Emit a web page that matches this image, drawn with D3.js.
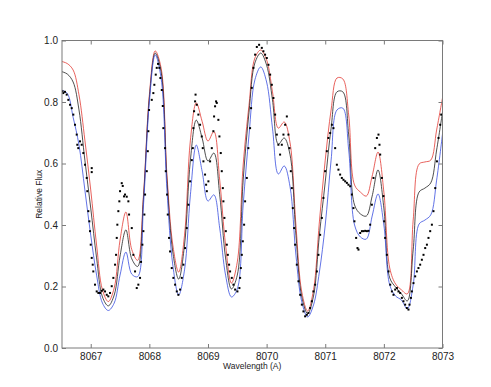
<!DOCTYPE html>
<head>
  <meta charset="utf-8">
  <title>Relative Flux</title>
  <script src="https://cdn.jsdelivr.net/npm/d3@7"></script>
  <style>
    body { margin: 0; background: #fff; }
    text { font-family: "Liberation Sans", Arial, sans-serif; fill: #222; }
  </style>
</head>

<body>
  <script type="text/javascript">
    var WIDTH = 491;
    var HEIGHT = 387;
    var LEFT = 62, RIGHT = 442.5, TOP = 40.5, BOTTOM = 348;

    //===========data
    var xTicks = [8067, 8068, 8069, 8070, 8071, 8072, 8073];
    var yTicks = [0.0, 0.2, 0.4, 0.6, 0.8, 1.0];

    // model grid (Angstrom)
    var modelWave = [8066.5, 8066.6, 8066.7, 8066.8, 8066.9, 8067.0, 8067.1, 8067.2, 8067.3, 8067.4,
                     8067.5, 8067.6, 8067.7, 8067.8, 8067.9, 8068.0, 8068.1, 8068.2, 8068.3, 8068.4,
                     8068.5, 8068.6, 8068.7, 8068.8, 8068.9, 8069.0, 8069.1, 8069.2, 8069.3, 8069.4,
                     8069.5, 8069.6, 8069.7, 8069.8, 8069.9, 8070.0, 8070.1, 8070.2, 8070.3, 8070.4,
                     8070.5, 8070.6, 8070.7, 8070.8, 8070.9, 8071.0, 8071.1, 8071.2, 8071.3, 8071.4,
                     8071.5, 8071.6, 8071.7, 8071.8, 8071.9, 8072.0, 8072.1, 8072.2, 8072.3, 8072.4,
                     8072.5, 8072.6, 8072.7, 8072.8, 8072.9, 8073.0];

    var redModel = [0.932, 0.925, 0.904, 0.823, 0.676, 0.514, 0.335, 0.189, 0.151, 0.195,
                    0.351, 0.442, 0.320, 0.285, 0.498, 0.823, 0.966, 0.911, 0.563, 0.335,
                    0.247, 0.367, 0.676, 0.797, 0.737, 0.673, 0.704, 0.546, 0.335, 0.211,
                    0.280, 0.595, 0.790, 0.943, 0.969, 0.937, 0.833, 0.715, 0.735, 0.667,
                    0.400, 0.182, 0.120, 0.189, 0.410, 0.611, 0.774, 0.878, 0.875, 0.758,
                    0.530, 0.507, 0.494, 0.559, 0.637, 0.507, 0.260, 0.208, 0.189, 0.176,
                    0.416, 0.598, 0.605, 0.611, 0.709, 0.813];

    var blackModel = [0.899, 0.891, 0.865, 0.774, 0.611, 0.455, 0.293, 0.166, 0.137, 0.172,
                      0.299, 0.384, 0.290, 0.265, 0.488, 0.813, 0.959, 0.898, 0.546, 0.312,
                      0.224, 0.335, 0.611, 0.741, 0.683, 0.608, 0.634, 0.498, 0.293, 0.192,
                      0.237, 0.546, 0.767, 0.927, 0.959, 0.920, 0.807, 0.663, 0.683, 0.628,
                      0.367, 0.166, 0.112, 0.169, 0.367, 0.540, 0.715, 0.833, 0.833, 0.693,
                      0.465, 0.436, 0.429, 0.494, 0.579, 0.455, 0.228, 0.198, 0.176, 0.153,
                      0.319, 0.507, 0.520, 0.537, 0.644, 0.767];

    var blueModel = [0.839, 0.828, 0.750, 0.660, 0.514, 0.367, 0.237, 0.146, 0.122, 0.146,
                     0.237, 0.312, 0.240, 0.232, 0.465, 0.800, 0.953, 0.878, 0.514, 0.270,
                     0.172, 0.254, 0.498, 0.660, 0.575, 0.478, 0.498, 0.390, 0.237, 0.166,
                     0.192, 0.465, 0.693, 0.872, 0.914, 0.865, 0.715, 0.566, 0.592, 0.524,
                     0.302, 0.150, 0.101, 0.140, 0.247, 0.400, 0.611, 0.774, 0.780, 0.644,
                     0.400, 0.361, 0.354, 0.429, 0.501, 0.400, 0.205, 0.169, 0.156, 0.127,
                     0.205, 0.403, 0.416, 0.433, 0.546, 0.696];

    // observed spectrum (dots)
    var obsWave = [8066.519, 8066.532, 8066.561, 8066.590, 8066.618, 8066.647, 8066.676, 8066.703, 8066.732, 8066.761,
                   8066.771, 8066.788, 8066.817, 8066.846, 8066.874, 8066.903, 8066.932, 8066.942, 8066.959, 8066.976,
                   8066.988, 8067.000, 8067.017, 8067.034, 8067.044, 8067.073, 8067.102, 8067.130, 8067.159, 8067.188,
                   8067.215, 8067.244, 8067.273, 8067.300, 8067.329, 8067.358, 8067.386, 8067.415, 8067.432, 8067.444,
                   8067.454, 8067.471, 8067.488, 8067.500, 8067.529, 8067.546, 8067.568, 8067.585, 8067.614, 8067.642,
                   8067.654, 8067.700, 8067.727, 8067.756, 8067.785, 8067.812, 8067.841, 8067.858, 8067.881, 8067.898,
                   8067.915, 8067.927, 8067.956, 8067.973, 8067.983, 8067.995,
                   8068.041, 8068.068, 8068.085, 8068.109, 8068.126, 8068.148, 8068.171, 8068.188, 8068.212, 8068.229,
                   8068.239, 8068.268, 8068.280, 8068.302,
                   8068.314, 8068.336, 8068.353, 8068.382, 8068.410, 8068.439, 8068.468, 8068.495, 8068.524, 8068.553,
                   8068.580, 8068.609, 8068.638, 8068.666, 8068.695, 8068.724, 8068.741, 8068.751, 8068.763, 8068.780,
                   8068.788, 8068.809, 8068.836, 8068.865, 8068.894, 8068.911, 8068.922, 8068.950, 8068.968, 8068.980,
                   8069.007, 8069.036, 8069.065, 8069.092, 8069.104, 8069.121, 8069.138, 8069.150, 8069.177, 8069.195,
                   8069.218, 8069.235, 8069.253, 8069.263, 8069.280, 8069.304, 8069.321, 8069.338, 8069.360, 8069.377,
                   8069.406, 8069.434, 8069.463, 8069.502, 8069.536, 8069.548, 8069.560, 8069.577, 8069.594, 8069.616,
                   8069.633, 8069.662, 8069.689, 8069.718, 8069.735, 8069.747, 8069.775, 8069.804, 8069.833, 8069.872,
                   8069.918, 8069.945, 8069.974, 8070.003, 8070.031, 8070.060, 8070.089, 8070.116, 8070.145, 8070.174,
                   8070.201, 8070.230, 8070.259, 8070.287, 8070.316, 8070.345, 8070.372, 8070.389, 8070.413, 8070.430,
                   8070.447, 8070.469, 8070.486, 8070.515, 8070.543, 8070.572, 8070.601, 8070.628, 8070.657, 8070.686,
                   8070.713, 8070.742, 8070.771, 8070.799, 8070.828, 8070.857, 8070.884, 8070.913, 8070.942, 8070.969,
                   8070.998, 8071.027, 8071.054, 8071.084, 8071.113, 8071.140, 8071.169, 8071.198, 8071.225, 8071.254,
                   8071.283, 8071.311, 8071.340, 8071.369, 8071.396, 8071.425, 8071.454, 8071.481, 8071.498, 8071.527,
                   8071.550, 8071.567, 8071.596, 8071.625, 8071.652, 8071.681, 8071.710, 8071.737, 8071.766, 8071.795,
                   8071.823, 8071.852, 8071.881, 8071.908, 8071.925, 8071.937, 8071.966, 8071.993, 8072.005, 8072.022,
                   8072.051, 8072.079, 8072.108, 8072.137, 8072.164, 8072.193, 8072.222, 8072.249, 8072.278, 8072.307,
                   8072.334, 8072.363, 8072.392, 8072.420, 8072.437, 8072.461, 8072.478, 8072.505, 8072.534, 8072.563,
                   8072.590, 8072.619, 8072.648, 8072.676, 8072.705, 8072.734, 8072.761, 8072.790, 8072.819, 8072.846,
                   8072.876, 8072.905, 8072.932, 8072.961, 8072.978,
                   8067.017, 8067.017];

    var obsFlux = [0.835, 0.829, 0.833, 0.824, 0.807, 0.791, 0.780, 0.759, 0.726, 0.694,
                   0.661, 0.650, 0.672, 0.661, 0.634, 0.596, 0.553, 0.510, 0.445, 0.412,
                   0.380, 0.336, 0.293, 0.271, 0.249, 0.206, 0.184, 0.179, 0.179, 0.186,
                   0.190, 0.184, 0.173, 0.168, 0.179, 0.201, 0.228, 0.271, 0.303, 0.358,
                   0.401, 0.445, 0.477, 0.510, 0.536, 0.527, 0.493, 0.499, 0.492, 0.477,
                   0.434, 0.390, 0.303, 0.249, 0.195, 0.206, 0.228, 0.280, 0.336, 0.380,
                   0.434, 0.499, 0.575, 0.640, 0.705, 0.774,
                   0.807, 0.829, 0.856, 0.889, 0.911, 0.924, 0.911, 0.878, 0.839, 0.787,
                   0.715, 0.650, 0.575, 0.499,
                   0.434, 0.358, 0.314, 0.260, 0.228, 0.206, 0.184, 0.173, 0.190, 0.228,
                   0.271, 0.325, 0.390, 0.466, 0.542, 0.611, 0.650, 0.715, 0.770, 0.802,
                   0.824, 0.791, 0.759, 0.726, 0.688, 0.650, 0.607, 0.564, 0.531, 0.510,
                   0.542, 0.607, 0.650, 0.705, 0.753, 0.786, 0.802, 0.797, 0.742, 0.688,
                   0.634, 0.575, 0.520, 0.477, 0.423, 0.380, 0.336, 0.303, 0.271, 0.249,
                   0.228, 0.206, 0.190, 0.184, 0.195, 0.228, 0.260, 0.303, 0.347, 0.401,
                   0.477, 0.553, 0.650, 0.715, 0.780, 0.846, 0.911, 0.954, 0.979, 0.986,
                   0.976, 0.965, 0.954, 0.943, 0.921, 0.889, 0.856, 0.813, 0.759, 0.694,
                   0.661, 0.629, 0.661, 0.694, 0.726, 0.753, 0.694, 0.650, 0.575, 0.520,
                   0.455, 0.390, 0.336, 0.271, 0.217, 0.173, 0.141, 0.119, 0.103, 0.108,
                   0.114, 0.130, 0.152, 0.184, 0.206, 0.249, 0.303, 0.368, 0.423, 0.488,
                   0.575, 0.640, 0.683, 0.699, 0.726, 0.715, 0.650, 0.596, 0.580, 0.564,
                   0.553, 0.547, 0.542, 0.537, 0.531, 0.526, 0.499, 0.455, 0.412, 0.358,
                   0.325, 0.320, 0.374, 0.380, 0.380, 0.381, 0.380, 0.381, 0.401, 0.466,
                   0.553, 0.650, 0.683, 0.694, 0.661, 0.629, 0.553, 0.494, 0.412, 0.358,
                   0.303, 0.249, 0.206, 0.184, 0.173, 0.190, 0.195, 0.184, 0.179, 0.163,
                   0.152, 0.141, 0.130, 0.125, 0.141, 0.163, 0.184, 0.211, 0.233, 0.249,
                   0.260, 0.271, 0.287, 0.303, 0.325, 0.336, 0.358, 0.380, 0.401, 0.445,
                   0.520, 0.607, 0.683, 0.726, 0.759,
                   0.585, 0.572];

    //============scales
    var x = d3.scaleLinear().domain([8066.51, 8073.0]).range([LEFT, RIGHT]);
    var y = d3.scaleLinear().domain([0, 1]).range([BOTTOM, TOP]);

    var svg = d3.select("body").append("svg")
                .attr("width", WIDTH)
                .attr("height", HEIGHT);

    svg.append("clipPath").attr("id", "plot")
      .append("rect")
      .attr("x", LEFT).attr("y", TOP)
      .attr("width", RIGHT - LEFT).attr("height", BOTTOM - TOP);

    //=============model lines
    var models = [
      { flux: redModel,   color: "#e23a33" },
      { flux: blackModel, color: "#222222" },
      { flux: blueModel,  color: "#3a4fe0" }
    ];

    var line = d3.line()
                 .x(function(d){ return x(d[0]); })
                 .y(function(d){ return y(d[1]); })
                 .curve(d3.curveCatmullRom.alpha(0.5));

    var plot = svg.append("g").attr("clip-path", "url(#plot)");

    plot.selectAll("path.model")
      .data(models)
      .enter().append("path")
      .attr("class", "model")
      .attr("fill", "none")
      .attr("stroke", function(d){ return d.color; })
      .attr("stroke-width", 0.8)
      .attr("d", function(m){
        return line(modelWave.map(function(w, i){ return [w, m.flux[i]]; }));
      });

    //=============observed dots
    plot.selectAll("rect.obs")
      .data(obsWave)
      .enter().append("rect")
      .attr("class", "obs")
      .attr("x", function(d){ return x(d) - 1; })
      .attr("y", function(d, i){ return y(obsFlux[i]) - 1; })
      .attr("width", 2)
      .attr("height", 2)
      .attr("fill", "#000");

    //=============axes
    var frameColor = "#7a7a7a";

    var axBottom = svg.append("g")
      .attr("transform", "translate(0," + BOTTOM + ")")
      .call(d3.axisBottom(x).tickValues(xTicks).tickFormat(d3.format("d"))
              .tickSizeInner(-4).tickSizeOuter(0).tickPadding(5));
    var axLeft = svg.append("g")
      .attr("transform", "translate(" + LEFT + ",0)")
      .call(d3.axisLeft(y).tickValues(yTicks).tickFormat(d3.format(".1f"))
              .tickSizeInner(-4).tickSizeOuter(0).tickPadding(4));
    var axTop = svg.append("g")
      .attr("transform", "translate(0," + TOP + ")")
      .call(d3.axisTop(x).tickValues(xTicks).tickFormat("")
              .tickSizeInner(-4).tickSizeOuter(0));
    var axRight = svg.append("g")
      .attr("transform", "translate(" + RIGHT + ",0)")
      .call(d3.axisRight(y).tickValues(yTicks).tickFormat("")
              .tickSizeInner(-4).tickSizeOuter(0));

    [axBottom, axLeft, axTop, axRight].forEach(function(g){
      g.select(".domain").remove();
      g.selectAll("line").attr("stroke", frameColor);
      g.selectAll("text").attr("font-size", 10).attr("fill", "#222");
    });

    svg.append("rect")
      .attr("x", LEFT).attr("y", TOP)
      .attr("width", RIGHT - LEFT).attr("height", BOTTOM - TOP)
      .attr("fill", "none")
      .attr("stroke", frameColor)
      .attr("stroke-width", 1);

    svg.append("text")
      .attr("transform", "translate(42," + ((TOP + BOTTOM) / 2) + ") rotate(-90)")
      .attr("text-anchor", "middle")
      .attr("font-size", 8.5)
      .text("Relative Flux");

    svg.append("text")
      .attr("x", (LEFT + RIGHT) / 2)
      .attr("y", 369)
      .attr("text-anchor", "middle")
      .attr("font-size", 8.5)
      .text("Wavelength (A)");
  </script>
</body>
